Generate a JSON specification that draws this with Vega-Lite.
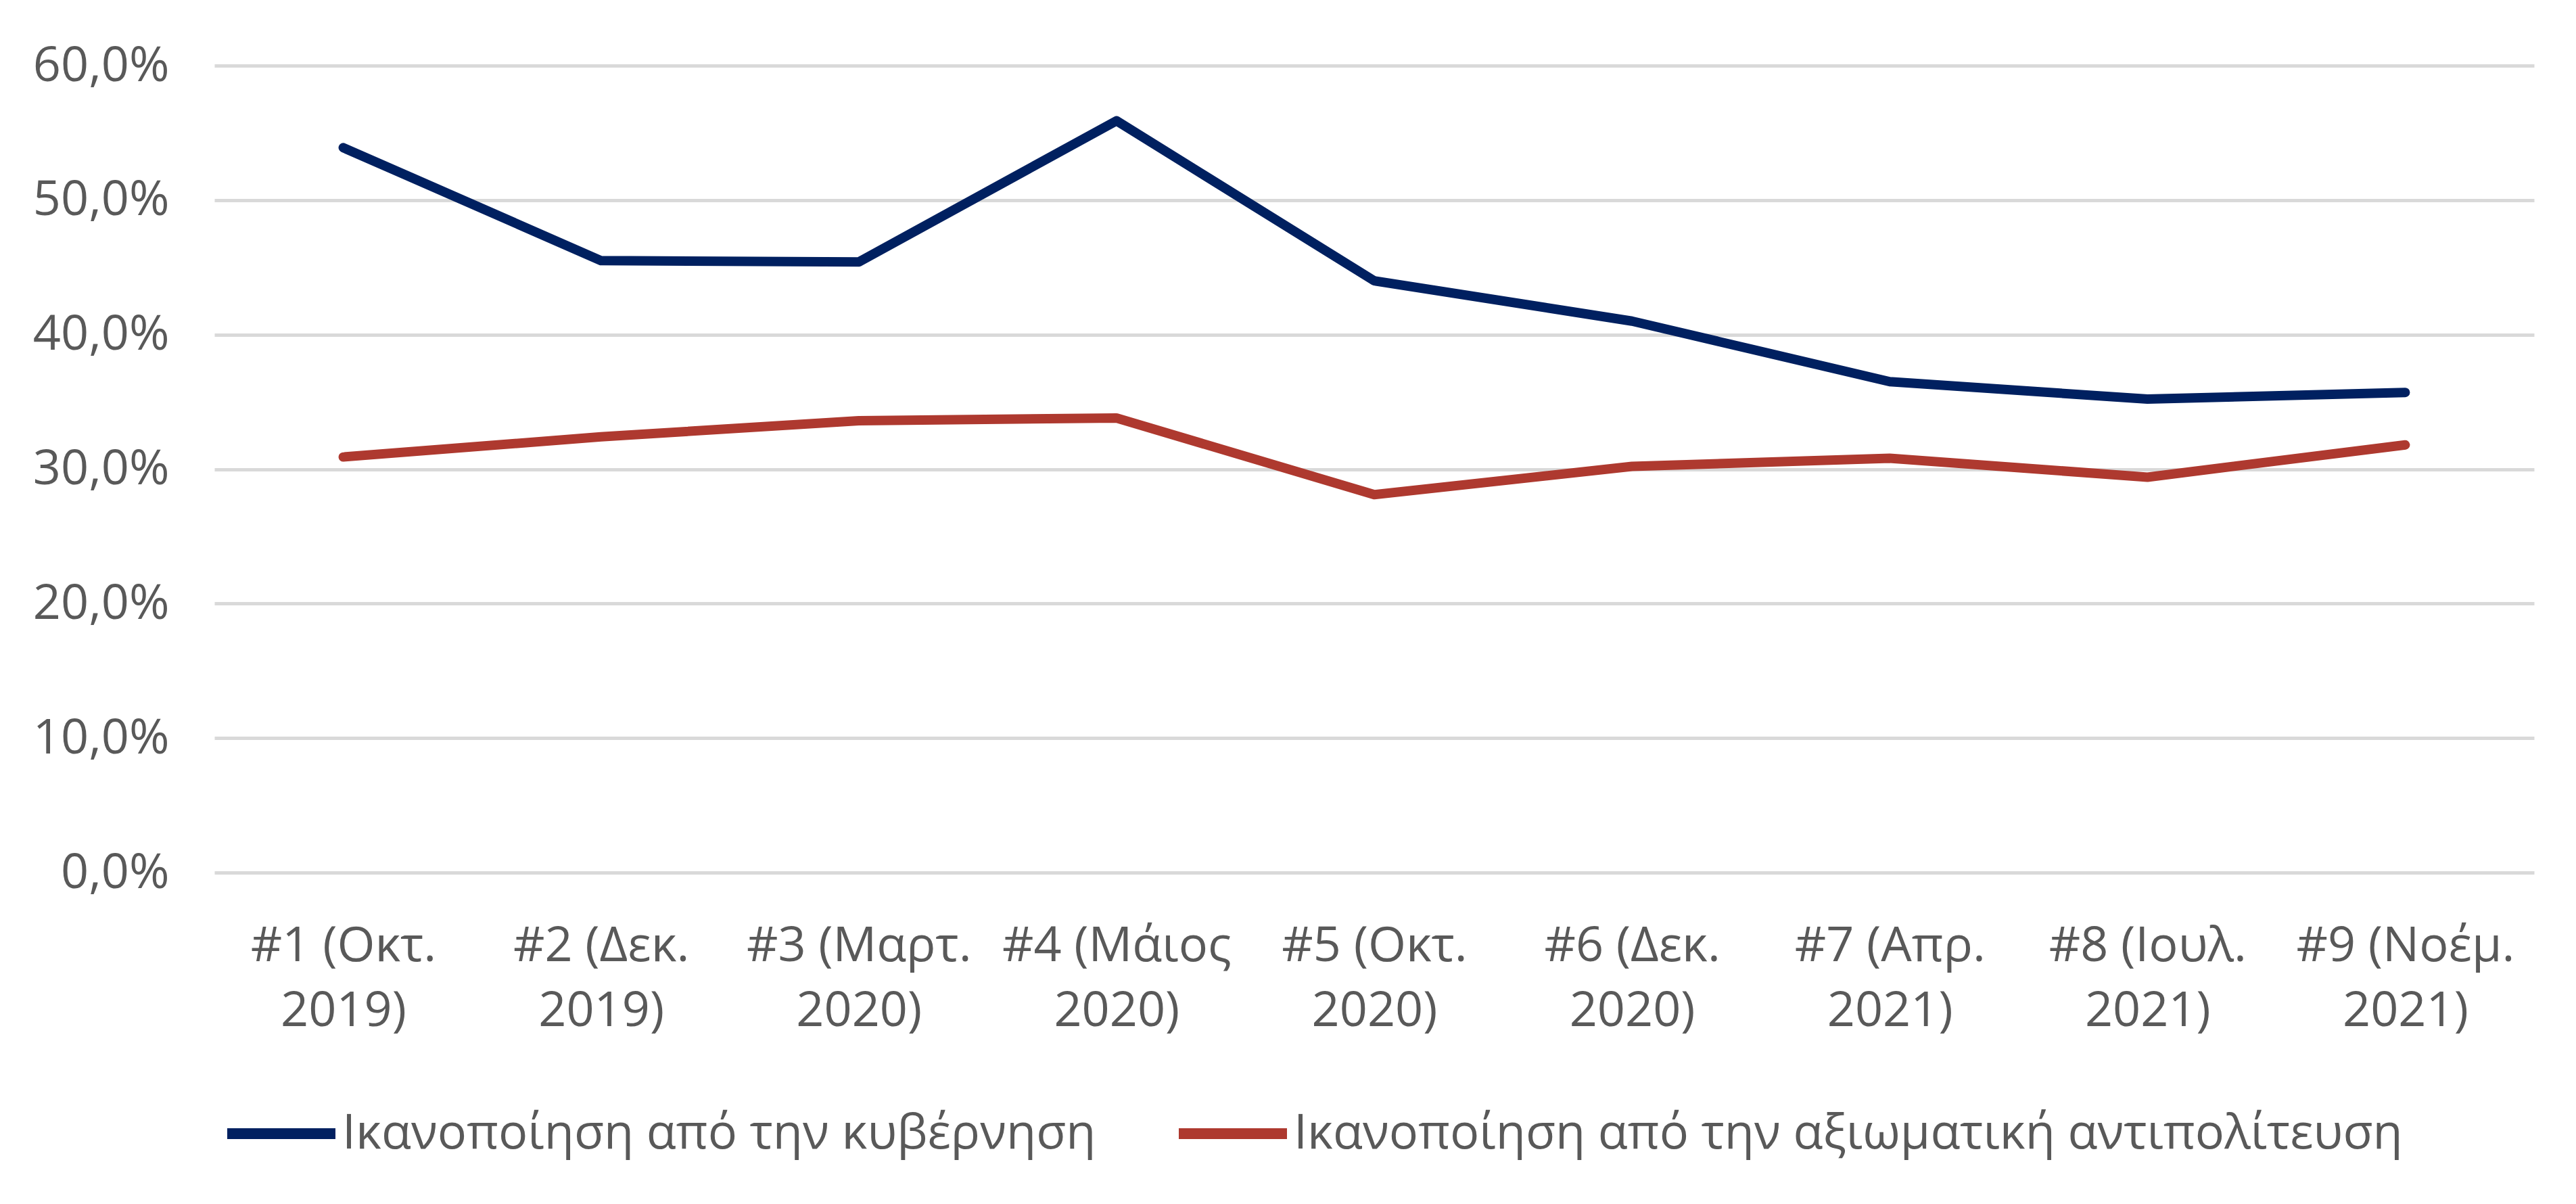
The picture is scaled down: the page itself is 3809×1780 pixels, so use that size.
{
  "$schema": "https://vega.github.io/schema/vega-lite/v6.json",
  "width": 3430,
  "height": 1193,
  "autosize": {"type": "none"},
  "padding": {"left": 317, "top": 97, "right": 62, "bottom": 490},
  "background": "white",
  "config": {"view": {"stroke": null}, "font": "Open Sans"},
  "data": {
    "values": [
      {"wave": "#1 (Οκτ. 2019)", "series": "Ικανοποίηση από την κυβέρνηση", "value": 0.539},
      {"wave": "#2 (Δεκ. 2019)", "series": "Ικανοποίηση από την κυβέρνηση", "value": 0.455},
      {"wave": "#3 (Μαρτ. 2020)", "series": "Ικανοποίηση από την κυβέρνηση", "value": 0.454},
      {"wave": "#4 (Μάιος 2020)", "series": "Ικανοποίηση από την κυβέρνηση", "value": 0.559},
      {"wave": "#5 (Οκτ. 2020)", "series": "Ικανοποίηση από την κυβέρνηση", "value": 0.440},
      {"wave": "#6 (Δεκ. 2020)", "series": "Ικανοποίηση από την κυβέρνηση", "value": 0.410},
      {"wave": "#7 (Απρ. 2021)", "series": "Ικανοποίηση από την κυβέρνηση", "value": 0.365},
      {"wave": "#8 (Ιουλ. 2021)", "series": "Ικανοποίηση από την κυβέρνηση", "value": 0.352},
      {"wave": "#9 (Νοέμ. 2021)", "series": "Ικανοποίηση από την κυβέρνηση", "value": 0.357},
      {"wave": "#1 (Οκτ. 2019)", "series": "Ικανοποίηση από την αξιωματική αντιπολίτευση", "value": 0.309},
      {"wave": "#2 (Δεκ. 2019)", "series": "Ικανοποίηση από την αξιωματική αντιπολίτευση", "value": 0.324},
      {"wave": "#3 (Μαρτ. 2020)", "series": "Ικανοποίηση από την αξιωματική αντιπολίτευση", "value": 0.336},
      {"wave": "#4 (Μάιος 2020)", "series": "Ικανοποίηση από την αξιωματική αντιπολίτευση", "value": 0.338},
      {"wave": "#5 (Οκτ. 2020)", "series": "Ικανοποίηση από την αξιωματική αντιπολίτευση", "value": 0.281},
      {"wave": "#6 (Δεκ. 2020)", "series": "Ικανοποίηση από την αξιωματική αντιπολίτευση", "value": 0.302},
      {"wave": "#7 (Απρ. 2021)", "series": "Ικανοποίηση από την αξιωματική αντιπολίτευση", "value": 0.308},
      {"wave": "#8 (Ιουλ. 2021)", "series": "Ικανοποίηση από την αξιωματική αντιπολίτευση", "value": 0.294},
      {"wave": "#9 (Νοέμ. 2021)", "series": "Ικανοποίηση από την αξιωματική αντιπολίτευση", "value": 0.318}
    ]
  },
  "mark": {"type": "line", "strokeWidth": 14, "strokeCap": "round", "strokeJoin": "round"},
  "encoding": {
    "x": {
      "field": "wave",
      "type": "ordinal",
      "sort": null,
      "axis": {
        "title": null,
        "labelAngle": 0,
        "labelExpr": "[slice(datum.value, 0, lastindexof(datum.value, ' ')), slice(datum.value, lastindexof(datum.value, ' ') + 1)]",
        "labelFontSize": 72,
        "labelColor": "#595959",
        "labelPadding": 73,
        "labelLineHeight": 96,
        "labelBaseline": "top",
        "labelOverlap": false,
        "labelLimit": 0,
        "domain": false,
        "ticks": false,
        "grid": false
      }
    },
    "y": {
      "field": "value",
      "type": "quantitative",
      "scale": {"domain": [0, 0.6]},
      "axis": {
        "title": null,
        "values": [0, 0.1, 0.2, 0.3, 0.4, 0.5, 0.6],
        "labelExpr": "replace(format(datum.value, '.1%'), '.', ',')",
        "labelFontSize": 72,
        "labelColor": "#595959",
        "labelPadding": 67,
        "labelLimit": 0,
        "domain": false,
        "ticks": false,
        "gridColor": "#D9D9D9",
        "gridWidth": 5
      }
    },
    "color": {
      "field": "series",
      "type": "nominal",
      "sort": null,
      "scale": {
        "domain": ["Ικανοποίηση από την κυβέρνηση", "Ικανοποίηση από την αξιωματική αντιπολίτευση"],
        "range": ["#002060", "#AE392F"]
      },
      "legend": {
        "title": null,
        "orient": "none",
        "direction": "horizontal",
        "legendX": 11,
        "legendY": 1491,
        "symbolType": "stroke",
        "symbolSize": 25600,
        "symbolStrokeWidth": 16,
        "labelFontSize": 72,
        "labelColor": "#595959",
        "labelOffset": 2,
        "labelLimit": 0,
        "columnPadding": 90
      }
    }
  }
}
